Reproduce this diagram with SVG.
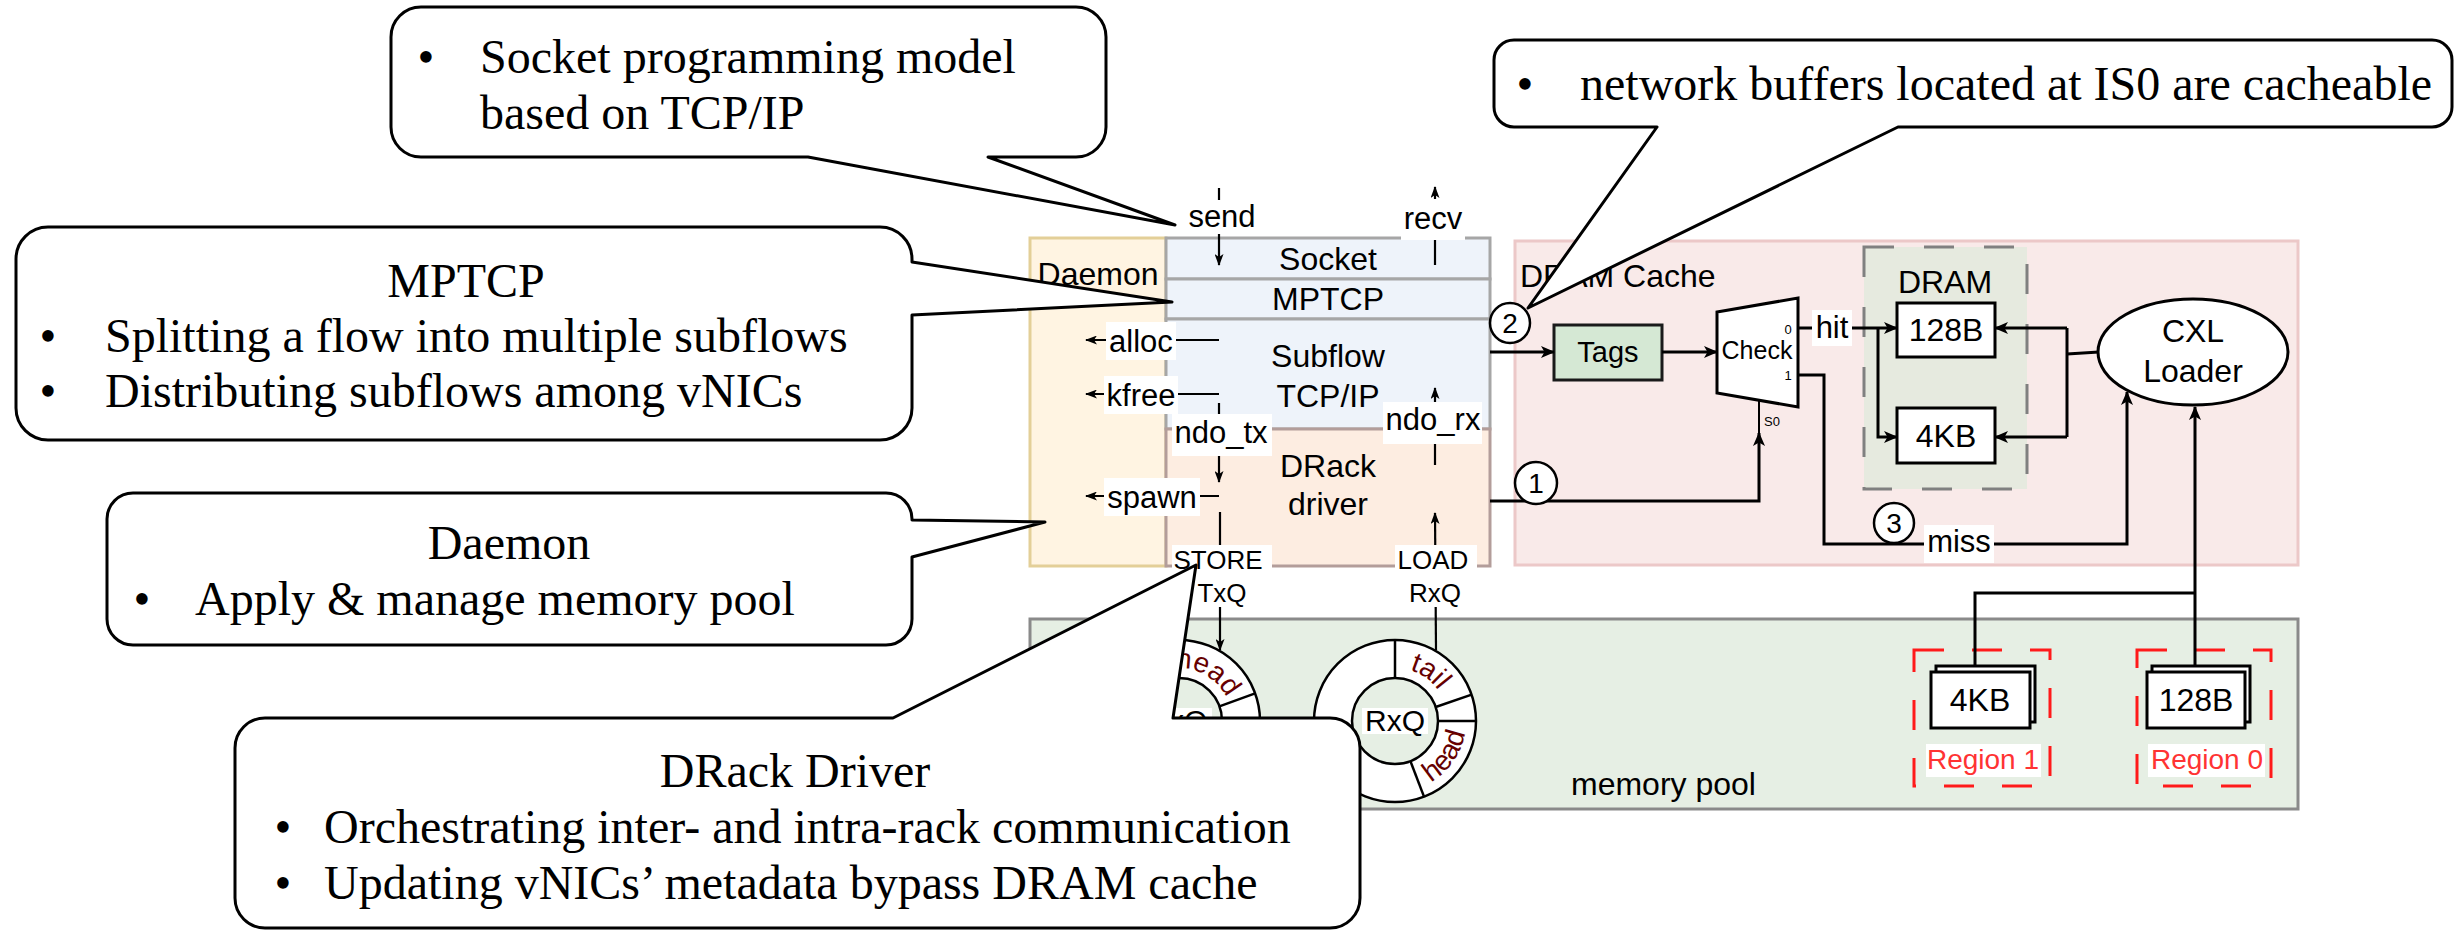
<svg xmlns="http://www.w3.org/2000/svg" width="2456" height="931" viewBox="0 0 2456 931">
<defs>
<style>
.sans{font-family:"Liberation Sans",Arial,Helvetica,sans-serif;fill:#000}
.serif{font-family:"Liberation Serif","Times New Roman",serif;fill:#000;font-size:48px}
.dot{text-anchor:middle}
.st{text-anchor:start}
.lbl{font-size:31px;text-anchor:middle}
.big{font-size:32px;text-anchor:middle}
.q{font-size:26px;text-anchor:middle}
.mid{text-anchor:middle}
.bg{fill:#fff}
.w3{stroke:#000;stroke-width:3;fill:none}
.w2{stroke:#000;stroke-width:2.2;fill:none}
.callout{fill:#fff;stroke:#000;stroke-width:3;stroke-linejoin:round}
.ring{fill:#fff;fill-rule:evenodd;stroke:#000;stroke-width:2.5}
.div{stroke:#000;stroke-width:2.5}
.rtxt{font-family:"Liberation Sans",Arial,sans-serif;font-size:28px;fill:#660000;text-anchor:middle}
.box{fill:#fff;stroke:#000;stroke-width:3}
.badge{fill:#fff;stroke:#000;stroke-width:2.5}
.region{fill:none;stroke:#ff1a1a;stroke-width:3;stroke-dasharray:30 28}
.rl{font-family:"Liberation Sans",Arial,sans-serif;font-size:28px;fill:#ff3333;text-anchor:middle}
</style>
<marker id="ah" viewBox="0 0 14 12" refX="13" refY="6" markerWidth="14" markerHeight="12" markerUnits="userSpaceOnUse" orient="auto"><path d="M0,0 L14,6 L0,12 L3.5,6 Z"/></marker>
<marker id="as" viewBox="0 0 12 9" refX="11" refY="4.5" markerWidth="12" markerHeight="9" markerUnits="userSpaceOnUse" orient="auto"><path d="M0,0 L12,4.5 L0,9 L3,4.5 Z"/></marker>
<path id="arcRxTail" d="M1395,668 A53,53 0 0 1 1445.1,703.7"/>
<path id="arcRxHead" d="M1420.4,787.3 A71,71 0 0 0 1466,721"/>
<path id="arcTxHead" d="M1165.3,669.8 A53,53 0 0 1 1230.2,707.3"/>
</defs>
<rect width="2456" height="931" fill="#fff"/>

<!-- containers -->
<g id="dram-cache">
<rect x="1515" y="241" width="783" height="324" fill="#f9eae9" stroke="#ecc8c8" stroke-width="3"/>
<text class="sans" x="1520" y="287" font-size="32">DRAM Cache</text>
</g>
<g id="memory-pool">
<rect x="1030" y="619" width="1268" height="190" fill="#e6efe4" stroke="#8a8a8a" stroke-width="3"/>
<text class="sans" x="1571" y="795" font-size="32">memory pool</text>
</g>
<g id="daemon">
<rect x="1030" y="238" width="136" height="328" fill="#fff4e2" stroke="#e3cf98" stroke-width="3"/>
<text class="sans big" x="1098" y="285">Daemon</text>
</g>
<g id="socket">
<rect x="1166" y="238" width="324" height="41" fill="#eef3fa" stroke="#a6a6a6" stroke-width="3"/>
<text class="sans big" x="1328" y="270">Socket</text>
</g>
<g id="mptcp">
<rect x="1166" y="279" width="324" height="40" fill="#eef3fa" stroke="#a6a6a6" stroke-width="3"/>
<text class="sans big" x="1328" y="310">MPTCP</text>
</g>
<g id="subflow">
<rect x="1166" y="319" width="324" height="110" fill="#eef3fa" stroke="#a6a6a6" stroke-width="3"/>
<text class="sans big" x="1328" y="367">Subflow</text>
<text class="sans big" x="1328" y="407">TCP/IP</text>
</g>
<g id="drack-driver">
<rect x="1166" y="429" width="324" height="137" fill="#fdede1" stroke="#b39d9a" stroke-width="3"/>
<text class="sans big" x="1328" y="477">DRack</text>
<text class="sans big" x="1328" y="515">driver</text>
</g>

<!-- DRAM cache internals -->
<g id="dram">
<rect x="1864" y="247" width="163" height="242" fill="#e6eadf" stroke="#808080" stroke-width="3" stroke-dasharray="30 30"/>
<text class="sans big" x="1945" y="293">DRAM</text>
</g>
<g id="tags">
<rect x="1554" y="325" width="108" height="55" fill="#d5e8d4" stroke="#1a1a1a" stroke-width="3"/>
<text class="sans mid" x="1608" y="362" font-size="29">Tags</text>
</g>
<g id="check">
<path d="M1717,312 L1798,298 L1798,407 L1717,393 Z" fill="#fff" stroke="#000" stroke-width="3"/>
<line x1="1759" y1="400" x2="1759" y2="433" stroke="#000" stroke-width="2"/>
<text class="sans mid" x="1757" y="359" font-size="25">Check</text>
<text class="sans mid" x="1788" y="334" font-size="13">0</text>
<text class="sans mid" x="1788" y="380" font-size="13">1</text>
<text class="sans mid" x="1772" y="426" font-size="13">S0</text>
</g>
<g id="dram-128b">
<rect x="1897" y="303" width="98" height="54" class="box"/>
<text class="sans big" x="1946" y="341">128B</text>
</g>
<g id="dram-4kb">
<rect x="1897" y="408" width="98" height="55" class="box"/>
<text class="sans big" x="1946" y="447">4KB</text>
</g>
<g id="cxl-loader">
<ellipse cx="2193" cy="352" rx="95" ry="53" class="box"/>
<text class="sans big" x="2193" y="342">CXL</text>
<text class="sans big" x="2193" y="382">Loader</text>
</g>

<!-- memory pool regions -->
<g id="region1">
<rect x="1914" y="650" width="136" height="136" class="region"/>
<rect x="1936" y="666" width="99" height="56" class="box" stroke-width="2.5"/>
<rect x="1931" y="672" width="99" height="56" class="box" stroke-width="2.5"/>
<text class="sans big" x="1980" y="711">4KB</text>
<rect x="1926" y="744" width="115" height="33" class="bg"/>
<text class="rl" x="1983" y="769">Region 1</text>
</g>
<g id="region0">
<rect x="2137" y="650" width="134" height="136" class="region"/>
<rect x="2152" y="666" width="98" height="56" class="box" stroke-width="2.5"/>
<rect x="2147" y="672" width="98" height="56" class="box" stroke-width="2.5"/>
<text class="sans big" x="2196" y="711">128B</text>
<rect x="2148" y="744" width="117" height="33" class="bg"/>
<text class="rl" x="2207" y="769">Region 0</text>
</g>

<!-- ring buffers -->
<g id="txq-ring">
<path class="ring" d="M1098,721 A81,81 0 1 0 1260,721 A81,81 0 1 0 1098,721 Z M1136,721 A43,43 0 1 1 1222,721 A43,43 0 1 1 1136,721 Z"/>
<line class="div" x1="1179" y1="678" x2="1179" y2="640"/>
<line class="div" x1="1219.4" y1="706.3" x2="1255.1" y2="693.3"/>
<line class="div" x1="1222" y1="721" x2="1260" y2="721"/>
<text class="rtxt"><textPath href="#arcTxHead" startOffset="50%">head</textPath></text>
<rect x="1146" y="708" width="66" height="26" class="bg"/>
<text class="sans mid" x="1179" y="731" font-size="30">TxQ</text>
</g>
<g id="rxq-ring">
<path class="ring" d="M1314,721 A81,81 0 1 0 1476,721 A81,81 0 1 0 1314,721 Z M1352,721 A43,43 0 1 1 1438,721 A43,43 0 1 1 1352,721 Z"/>
<line class="div" x1="1395" y1="678" x2="1395" y2="640"/>
<line class="div" x1="1435.7" y1="707" x2="1471.6" y2="694.6"/>
<line class="div" x1="1438" y1="721" x2="1476" y2="721"/>
<line class="div" x1="1410.4" y1="761.1" x2="1424" y2="796.6"/>
<text class="rtxt"><textPath href="#arcRxTail" startOffset="50%">tail</textPath></text>
<text class="rtxt"><textPath href="#arcRxHead" startOffset="50%">head</textPath></text>
<rect x="1362" y="708" width="66" height="26" class="bg"/>
<text class="sans mid" x="1395" y="731" font-size="30">RxQ</text>
</g>

<!-- connectors -->
<g id="connectors">
<line class="w2" x1="1219" y1="188" x2="1219" y2="265" marker-end="url(#as)"/>
<line class="w2" x1="1435" y1="265" x2="1435" y2="187" marker-end="url(#as)"/>
<line class="w2" x1="1219" y1="340" x2="1086" y2="340" marker-end="url(#as)"/>
<line class="w2" x1="1219" y1="394" x2="1086" y2="394" marker-end="url(#as)"/>
<line class="w2" x1="1219" y1="403" x2="1219" y2="482" marker-end="url(#as)"/>
<line class="w2" x1="1219" y1="496" x2="1086" y2="496" marker-end="url(#as)"/>
<line class="w2" x1="1220" y1="512" x2="1220" y2="650" marker-end="url(#as)"/>
<line class="w2" x1="1436" y1="650" x2="1435" y2="513" marker-end="url(#as)"/>
<line class="w2" x1="1435" y1="465" x2="1435" y2="388" marker-end="url(#as)"/>
<line class="w3" x1="1490" y1="352" x2="1554" y2="352" marker-end="url(#ah)"/>
<line class="w3" x1="1662" y1="352" x2="1717" y2="352" marker-end="url(#ah)"/>
<line class="w3" x1="1798" y1="328" x2="1897" y2="328" marker-end="url(#ah)"/>
<polyline class="w3" points="1878,328 1878,437 1897,437" marker-end="url(#ah)"/>
<polyline class="w3" points="2099,352 2067,354"/>
<line class="w3" x1="2067" y1="328" x2="2067" y2="437"/>
<line class="w3" x1="2067" y1="328" x2="1995" y2="328" marker-end="url(#ah)"/>
<line class="w3" x1="2067" y1="437" x2="1995" y2="437" marker-end="url(#ah)"/>
<polyline class="w3" points="1490,501 1759,501 1759,433" marker-end="url(#ah)"/>
<polyline class="w3" points="1798,375 1824,375 1824,544 2127,544 2127,392" marker-end="url(#ah)"/>
<polyline class="w3" points="1975,666 1975,593 2195,593"/>
<line class="w3" x1="2195" y1="666" x2="2195" y2="407" marker-end="url(#ah)"/>
<!-- edge labels -->
<rect x="1186" y="200" width="72" height="34" class="bg"/>
<text class="sans lbl" x="1222" y="227">send</text>
<rect x="1401" y="199" width="64" height="41" class="bg"/>
<text class="sans lbl" x="1433" y="229">recv</text>
<rect x="1106" y="322" width="70" height="38" class="bg"/>
<text class="sans lbl" x="1141" y="352">alloc</text>
<rect x="1104" y="376" width="74" height="38" class="bg"/>
<text class="sans lbl" x="1141" y="406">kfree</text>
<rect x="1172" y="414" width="100" height="42" class="bg"/>
<text class="sans lbl" x="1221" y="443">ndo_tx</text>
<rect x="1383" y="402" width="99" height="42" class="bg"/>
<text class="sans lbl" x="1433" y="430">ndo_rx</text>
<rect x="1104" y="478" width="96" height="38" class="bg"/>
<text class="sans lbl" x="1152" y="508">spawn</text>
<rect x="1172" y="545" width="100" height="35" class="bg"/>
<text class="sans q" x="1218" y="569">STORE</text>
<rect x="1194" y="580" width="78" height="27" class="bg"/>
<text class="sans q" x="1222" y="602">TxQ</text>
<rect x="1395" y="545" width="82" height="35" class="bg"/>
<text class="sans q" x="1433" y="569">LOAD</text>
<rect x="1405" y="580" width="61" height="27" class="bg"/>
<text class="sans q" x="1435" y="602">RxQ</text>
<rect x="1812" y="310" width="40" height="36" class="bg"/>
<text class="sans lbl" x="1832" y="338">hit</text>
<rect x="1924" y="525" width="70" height="38" class="bg"/>
<text class="sans lbl" x="1959" y="552">miss</text>
</g>

<!-- numbered steps -->
<g id="step1">
<circle cx="1536" cy="483" r="21" class="badge"/>
<text class="sans mid" x="1536" y="493" font-size="28">1</text>
</g>
<g id="step2">
<circle cx="1510" cy="323" r="20" class="badge"/>
<text class="sans mid" x="1510" y="333" font-size="28">2</text>
</g>
<g id="step3">
<circle cx="1894" cy="523" r="20" class="badge"/>
<text class="sans mid" x="1894" y="533" font-size="28">3</text>
</g>

<!-- callouts -->
<g id="callout-socket">
<path class="callout" d="M421,7 H1076 A30,30 0 0 1 1106,37 V127 A30,30 0 0 1 1076,157 H988 L1175,225 L808,157 H421 A30,30 0 0 1 391,127 V37 A30,30 0 0 1 421,7 Z"/>
<text class="serif"><tspan class="dot" x="426" y="73">•</tspan><tspan class="st" x="480" y="73">Socket programming model</tspan><tspan class="st" x="480" y="129">based on TCP/IP</tspan></text>
</g>
<g id="callout-mptcp">
<path class="callout" d="M48,227 H880 A32,32 0 0 1 912,259 V262 L1172,302 L912,315 V408 A32,32 0 0 1 880,440 H48 A32,32 0 0 1 16,408 V259 A32,32 0 0 1 48,227 Z"/>
<text class="serif"><tspan class="mid" x="466" y="297">MPTCP</tspan><tspan class="dot" x="48" y="352">•</tspan><tspan class="st" x="105" y="352">Splitting a flow into multiple subflows</tspan><tspan class="dot" x="48" y="407">•</tspan><tspan class="st" x="105" y="407">Distributing subflows among vNICs</tspan></text>
</g>
<g id="callout-daemon">
<path class="callout" d="M133,493 H886 A26,26 0 0 1 912,519 V520 L1045,522 L912,557 V619 A26,26 0 0 1 886,645 H133 A26,26 0 0 1 107,619 V519 A26,26 0 0 1 133,493 Z"/>
<text class="serif"><tspan class="mid" x="509" y="559">Daemon</tspan><tspan class="dot" x="142" y="615">•</tspan><tspan class="st" x="195" y="615">Apply &amp; manage memory pool</tspan></text>
</g>
<g id="callout-drack">
<path class="callout" d="M265,718 H893 L1196,565 L1173,718 H1330 A30,30 0 0 1 1360,748 V898 A30,30 0 0 1 1330,928 H265 A30,30 0 0 1 235,898 V748 A30,30 0 0 1 265,718 Z"/>
<text class="serif"><tspan class="mid" x="795" y="787">DRack Driver</tspan><tspan class="dot" x="283" y="843">•</tspan><tspan class="st" x="324" y="843">Orchestrating inter- and intra-rack communication</tspan><tspan class="dot" x="283" y="899">•</tspan><tspan class="st" x="324" y="899">Updating vNICs’ metadata bypass DRAM cache</tspan></text>
</g>
<g id="callout-cache">
<path class="callout" d="M1514,40 H2432 A20,20 0 0 1 2452,60 V107 A20,20 0 0 1 2432,127 H1898 L1528,308 L1657,127 H1514 A20,20 0 0 1 1494,107 V60 A20,20 0 0 1 1514,40 Z"/>
<text class="serif"><tspan class="dot" x="1525" y="100">•</tspan><tspan class="st" x="1580" y="100">network buffers located at IS0 are cacheable</tspan></text>
</g>
</svg>
